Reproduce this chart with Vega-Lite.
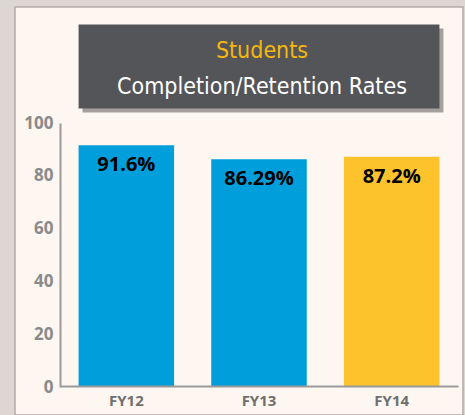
{
  "$schema": "https://vega.github.io/schema/vega-lite/v6.json",
  "width": 448,
  "height": 408,
  "padding": {"left": 15, "top": 7, "right": 2, "bottom": 0},
  "autosize": {"type": "none"},
  "background": "#ddd7d3",
  "view": {"fill": "#fdf6f1", "stroke": "#b3aba6", "strokeWidth": 1.5},
  "config": {"font": "Open Sans"},
  "layer": [
    {
      "data": {"values": [{"title": "Students", "subtitle": "Completion/Retention Rates"}]},
      "mark": {"type": "rect", "color": "#000000", "opacity": 0.35, "xOffset": 4, "x2Offset": 4, "yOffset": 4, "y2Offset": 4},
      "encoding": {
        "x": {"datum": "FY12", "type": "nominal", "bandPosition": 0},
        "x2": {"datum": "FY14", "bandPosition": 1},
        "y": {"datum": 105.5, "type": "quantitative"},
        "y2": {"datum": 137.3}
      }
    },
    {
      "data": {"values": [{"title": "Students", "subtitle": "Completion/Retention Rates"}]},
      "mark": {"type": "rect", "color": "#545559"},
      "encoding": {
        "x": {"datum": "FY12", "type": "nominal", "bandPosition": 0},
        "x2": {"datum": "FY14", "bandPosition": 1},
        "y": {"datum": 105.5, "type": "quantitative"},
        "y2": {"datum": 137.3}
      }
    },
    {
      "data": {"values": [{"title": "Students", "subtitle": "Completion/Retention Rates"}]},
      "mark": {"type": "text", "font": "DejaVu Sans Condensed, Roboto, sans-serif", "fontSize": 23, "color": "#f5b70f", "baseline": "middle", "align": "center", "xOffset": 3},
      "encoding": {
        "x": {"datum": "FY13", "type": "nominal"},
        "y": {"datum": 127.2, "type": "quantitative"},
        "text": {"field": "title"}
      }
    },
    {
      "data": {"values": [{"title": "Students", "subtitle": "Completion/Retention Rates"}]},
      "mark": {"type": "text", "font": "DejaVu Sans Condensed, Roboto, sans-serif", "fontSize": 23, "color": "#ffffff", "baseline": "middle", "align": "center", "xOffset": 3},
      "encoding": {
        "x": {"datum": "FY13", "type": "nominal"},
        "y": {"datum": 113.8, "type": "quantitative"},
        "text": {"field": "subtitle"}
      }
    },
    {
      "data": {"values": [
        {"year": "FY12", "rate": 91.6, "label": "91.6%"},
        {"year": "FY13", "rate": 86.29, "label": "86.29%"},
        {"year": "FY14", "rate": 87.2, "label": "87.2%"}
      ]},
      "layer": [
        {
          "mark": {"type": "bar"},
          "encoding": {
            "x": {
              "field": "year", "type": "nominal", "sort": null,
              "scale": {"domain": ["FY12", "FY13", "FY14"], "range": [45, 443], "paddingInner": 0.28, "paddingOuter": 0.14},
              "axis": {"title": null, "labelAngle": 0, "ticks": false, "bandPosition": 0.5, "labelAlign": "center", "offset": -29, "domainColor": "#9a9a9a", "domainWidth": 2, "labelColor": "#6f6f6f", "labelFont": "Open Sans", "labelFontWeight": "bold", "labelFontSize": 15, "labelPadding": 14}
            },
            "y": {
              "field": "rate", "type": "quantitative",
              "scale": {"domain": [0, 100], "range": [380, 116], "nice": false},
              "axis": {"title": null, "values": [0, 20, 40, 60, 80, 100], "grid": false, "ticks": false, "offset": -45, "domainColor": "#9a9a9a", "domainWidth": 2, "labelColor": "#8a8a8a", "labelFont": "Open Sans", "labelFontWeight": "bold", "labelFontSize": 17, "labelPadding": 7}
            },
            "color": {
              "field": "year", "type": "nominal", "legend": null,
              "scale": {"domain": ["FY12", "FY13", "FY14"], "range": ["#009fdc", "#009fdc", "#fdc32c"]}
            }
          }
        },
        {
          "mark": {"type": "text", "fontSize": 20, "fontWeight": "bold", "color": "#000000", "baseline": "middle", "dy": 20, "font": "Open Sans"},
          "encoding": {
            "x": {"field": "year", "type": "nominal", "sort": null},
            "y": {"field": "rate", "type": "quantitative"},
            "text": {"field": "label"}
          }
        }
      ]
    }
  ]
}
